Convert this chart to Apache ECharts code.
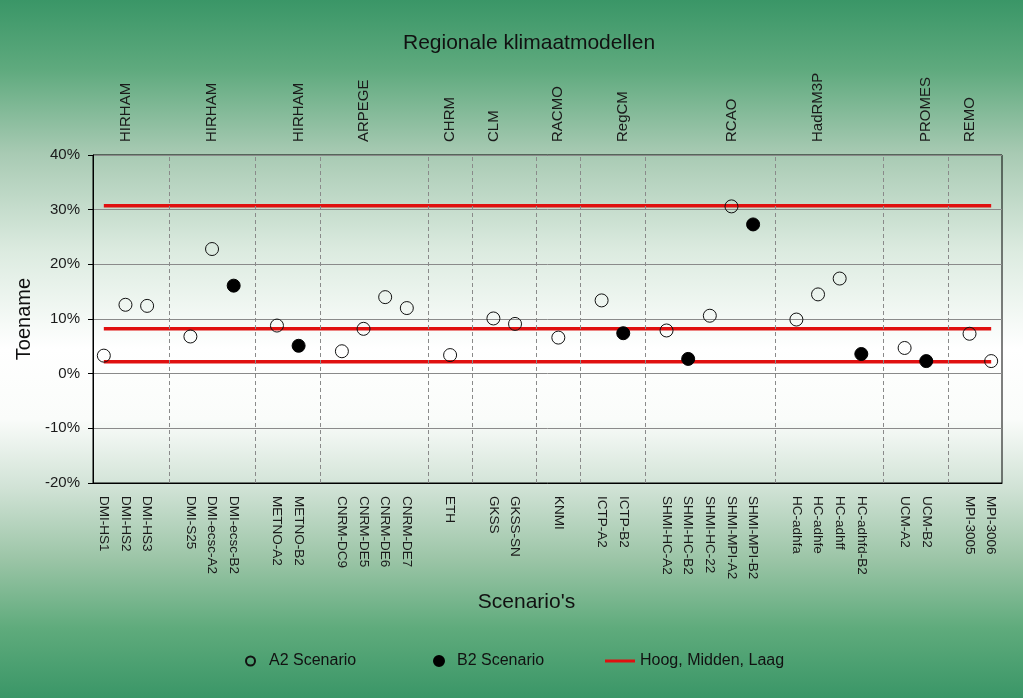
<!DOCTYPE html>
<html>
<head>
<meta charset="utf-8">
<script src="https://cdn.jsdelivr.net/npm/echarts@6/dist/echarts.min.js"></script>
<style>
html,body{margin:0;padding:0;}
#chart{width:1023px;height:698px;}
</style>
</head>
<body>
<div id="chart"></div>
<script>
// Scenario categories (blank entries are the group separators)
const categories = ['DMI-HS1','DMI-HS2','DMI-HS3','','DMI-S25','DMI-ecsc-A2','DMI-ecsc-B2','',
  'METNO-A2','METNO-B2','','CNRM-DC9','CNRM-DE5','CNRM-DE6','CNRM-DE7','','ETH','',
  'GKSS','GKSS-SN','','KNMI','','ICTP-A2','ICTP-B2','','SHMI-HC-A2','SHMI-HC-B2',
  'SHMI-HC-22','SHMI-MPI-A2','SHMI-MPI-B2','','HC-adhfa','HC-adhfe','HC-adhff','HC-adhfd-B2','',
  'UCM-A2','UCM-B2','','MPI-3005','MPI-3006'];
// Regional model labels (top axis)
const modelLabels = ['','HIRHAM','','','','HIRHAM','','','','HIRHAM','','','ARPEGE','','','','CHRM','',
  'CLM','','','RACMO','','','RegCM','','','','','RCAO','','','','HadRM3P','','','','','PROMES','','REMO',''];
// A2 scenario values (%)
const a2Values = [3.3,12.6,12.4,null,6.8,22.8,null,null,8.8,null,null,4.1,8.2,14.0,12.0,null,3.4,null,
  10.1,9.1,null,6.6,null,13.4,null,null,7.9,null,10.6,30.6,null,null,9.9,14.5,17.4,null,null,
  4.7,null,null,7.3,2.3];
// B2 scenario values (%)
const b2Values = [null,null,null,null,null,null,16.1,null,null,5.1,null,null,null,null,null,null,null,null,
  null,null,null,null,null,null,7.4,null,null,2.7,null,null,27.3,null,null,null,null,3.6,null,
  null,2.3,null,null,null];
// Hoog, Midden, Laag (%)
const levelValues = [30.7, 8.2, 2.2];
// Y axis ticks (%)
const yMin = -20, yMax = 40, yStep = 10;

const FONT = 'Liberation Sans, Arial, sans-serif';
const chart = echarts.init(document.getElementById('chart'), null, {renderer:'canvas'});

const separators = [];
categories.forEach((c,i)=>{ if(c==='') separators.push({xAxis:i}); });
const lastIdx = categories.length - 1;

const levelSeries = levelValues.map((v)=>({
  name:'Hoog, Midden, Laag', type:'line', xAxisIndex:0, yAxisIndex:0,
  data:[[0,v],[lastIdx,v]], symbol:'none', z:2,
  lineStyle:{color:'#e01010', width:3.5}, itemStyle:{color:'#e01010'},
  animation:false, silent:true
}));

const legendText = {fontFamily:FONT, fontSize:16, color:'#111'};

const option = {
  animation:false,
  backgroundColor: new echarts.graphic.LinearGradient(0,0,0,1,[
    {offset:0, color:'#3a9667'},
    {offset:0.1, color:'#5faa7e'},
    {offset:0.22, color:'#a8cab3'},
    {offset:0.36, color:'#dcebe0'},
    {offset:0.5, color:'#ffffff'},
    {offset:0.6, color:'#fafcfa'},
    {offset:0.7, color:'#d0e2d5'},
    {offset:0.8, color:'#9cc5a7'},
    {offset:0.9, color:'#5fab7c'},
    {offset:1, color:'#3a9667'}
  ]),
  title:{
    text:'Regionale klimaatmodellen', left:403, top:33, padding:0,
    textStyle:{fontFamily:FONT, fontSize:21, fontWeight:'normal', color:'#111'}
  },
  legend:[
    {data:['A2 Scenario'], left:245, top:653, padding:0, itemWidth:9, itemHeight:9,
     textStyle:Object.assign({padding:[0,0,0,9]}, legendText)},
    {data:['B2 Scenario'], left:433, top:653, padding:0, itemWidth:10, itemHeight:10,
     textStyle:Object.assign({padding:[0,0,0,8]}, legendText)},
    {data:['Hoog, Midden, Laag'], left:605, top:653, padding:0, itemWidth:30, itemHeight:3, icon:'rect',
     textStyle:legendText}
  ],
  grid:{left:93, right:21, top:155, bottom:215, show:true, borderColor:'#000', borderWidth:1,
    backgroundColor:'transparent', outerBoundsMode:'none', containLabel:false},
  xAxis:[
    {type:'category', data:categories, position:'bottom', boundaryGap:true,
     axisLine:{onZero:false, lineStyle:{color:'#000', width:1}}, axisTick:{show:false},
     axisLabel:{interval:0, rotate:-90, margin:13, fontFamily:FONT, fontSize:13.5, color:'#1a1a1a'},
     name:"Scenario's", nameLocation:'middle', nameGap:109,
     nameTextStyle:{fontFamily:FONT, fontSize:21, color:'#111', padding:[0,42,0,0]}},
    {type:'category', data:modelLabels, position:'top', boundaryGap:true,
     axisLine:{show:false, onZero:false}, axisTick:{show:false},
     axisLabel:{interval:0, rotate:-90, margin:13, fontFamily:FONT, fontSize:15, color:'#1a1a1a'}}
  ],
  yAxis:{
    type:'value', min:yMin, max:yMax, interval:yStep,
    axisLine:{show:true, onZero:false, lineStyle:{color:'#000'}},
    axisTick:{show:true, length:5, lineStyle:{color:'#000'}},
    axisLabel:{formatter:'{value}%', margin:13, fontFamily:FONT, fontSize:15, color:'#1a1a1a'},
    splitLine:{lineStyle:{color:'#8a8a8a', width:1}},
    name:'Toename', nameLocation:'middle', nameRotate:90, nameGap:59,
    nameTextStyle:{fontFamily:FONT, fontSize:20, color:'#111'}
  },
  series:[
    {name:'separators', type:'line', data:[], xAxisIndex:0,
     markLine:{silent:true, symbol:'none', label:{show:false},
       lineStyle:{color:'#8a8a8a', type:[4,3], width:1}, data:separators}},
    ...levelSeries,
    {name:'A2 Scenario', type:'scatter', data:a2Values, symbol:'circle', symbolSize:13, z:5,
     itemStyle:{color:'rgba(255,255,255,0)', borderColor:'#111', borderWidth:1, opacity:1}},
    {name:'B2 Scenario', type:'scatter', data:b2Values, symbol:'circle', symbolSize:13, z:5,
     itemStyle:{color:'#000', borderColor:'#000', borderWidth:1, opacity:1}}
  ]
};
chart.setOption(option);
</script>
</body>
</html>
